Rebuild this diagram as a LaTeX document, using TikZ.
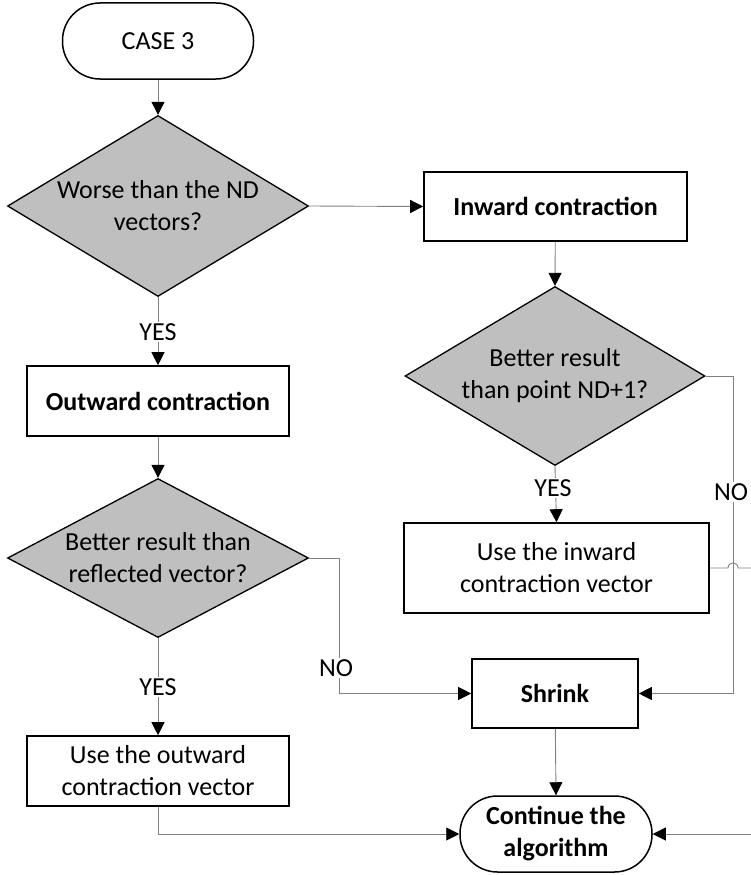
\documentclass[tikz,border=0pt]{standalone}
\usepackage{fontspec}
\setmainfont{Carlito}
\usetikzlibrary{shapes.geometric,arrows.meta}
\definecolor{decisionfill}{RGB}{191,191,191}
\definecolor{wiregray}{RGB}{128,128,128}
\begin{document}
\begin{tikzpicture}[x=1pt,y=-1pt,
  every node/.style={font=\fontsize{26pt}{32pt}\selectfont, align=center, inner sep=0pt},
  terminal/.style={draw=black, line width=1.5pt, rounded corners=37.5pt,
    minimum width=#1, minimum height=76pt, fill=white},
  process/.style 2 args={draw=black, line width=1.6pt, fill=white,
    minimum width=#1, minimum height=#2},
  decision/.style 2 args={diamond, draw=black, line width=1.3pt, fill=decisionfill,
    minimum width=#1, minimum height=#2},
  flow/.style={draw=wiregray, line width=0.9pt,
    -{Triangle[length=13pt,width=13pt,color=black]}},
  wire/.style={draw=wiregray, line width=0.9pt},
  answer/.style={fill=white, inner sep=1.5pt},
]
\useasboundingbox (0,0) rectangle (751,875);

% shapes
\node[terminal=191pt] (case) at (158,41) {CASE 3};
\node[decision={301pt}{181pt}] (d1) at (158,206) {};
\node (d1t) at (d1) {Worse than the ND\\vectors?};
\node[process={263pt}{69pt}, font=\fontsize{26pt}{32pt}\selectfont\bfseries] (inward) at (555.5,206.5) {Inward contraction};
\node[decision={300pt}{179pt}] (d2) at (555,376) {};
\node (d2t) at (d2) {Better result\\than point ND+1?};
\node[process={305pt}{90pt}] (usein) at (556.5,568) {Use the inward\\contraction vector};
\node[process={262pt}{70pt}, font=\fontsize{26pt}{32pt}\selectfont\bfseries] (outward) at (158,401) {Outward contraction};
\node[decision={301pt}{159pt}] (d3) at (158,558) {};
\node (d3t) at (d3) {Better result than\\reflected vector?};
\node[process={262pt}{70pt}] (useout) at (158,771) {Use the outward\\contraction vector};
\node[process={166pt}{69pt}, font=\fontsize{26pt}{32pt}\selectfont\bfseries] (shrink) at (555,693.5) {Shrink};
\node[terminal=192pt, font=\fontsize{26pt}{32pt}\selectfont\bfseries] (cont) at (556,834) {Continue the\\algorithm};

\coordinate (outA) at (751,568);
\coordinate (inB) at (751,834);

% connectors
\draw[flow] (case) -- (d1.north);
\draw[flow] (d1.east) -- (inward.west);
\draw[flow] (inward) -- (d2.north);
\draw[flow] (d2.south) -- (usein.north);
\draw[flow] (d2.east) -- ++(28,0) |- (shrink.east);
\draw[wire] (usein.east) -- (728,568) .. controls (728,561.3) and (738,561.3) .. (738,568) -- (outA);
\draw[flow] (d1.south) -- (outward.north);
\draw[flow] (outward) -- (d3.north);
\draw[flow] (d3.south) -- (useout.north);
\draw[flow] (d3.east) -- ++(30,0) |- (shrink.west);
\draw[flow] (useout.south) |- (cont.west);
\draw[flow] (shrink) -- (cont.north);
\draw[flow] (inB) -- (cont.east);

% branch labels
\node[answer] (yes1) at (158,332) {YES};
\node[answer] (yes2) at (553,488) {YES};
\node[answer] (no2) at (731,492) {NO};
\node[answer] (no3) at (336,668) {NO};
\node[answer] (yes3) at (158,687) {YES};
\end{tikzpicture}
\end{document}
